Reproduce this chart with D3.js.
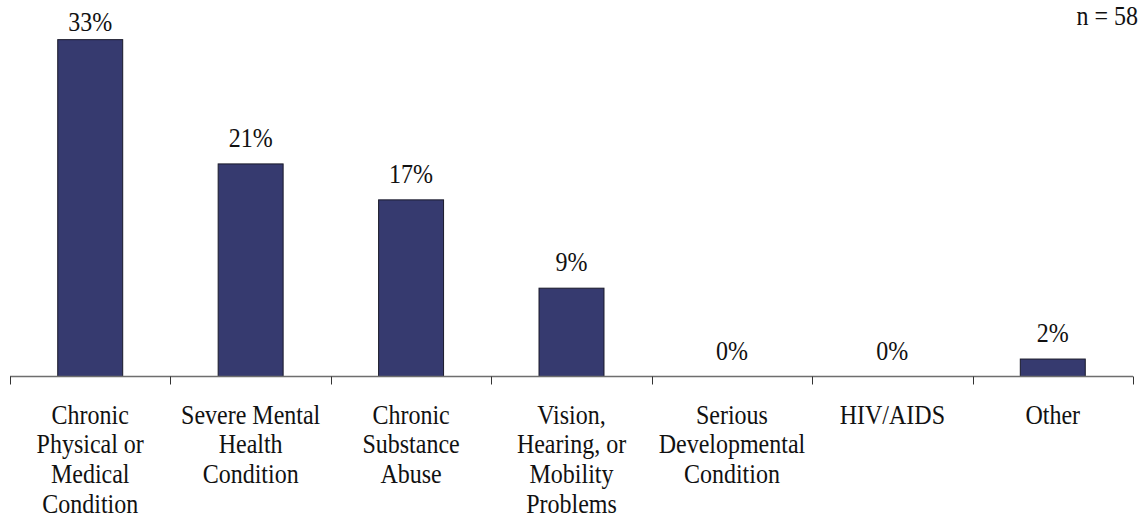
<!DOCTYPE html>
<html>
<head>
<meta charset="utf-8">
<script src="https://cdn.jsdelivr.net/npm/d3@7/dist/d3.min.js"></script>
<style>
  html, body { margin: 0; padding: 0; background: #fff; }
  svg { display: block; }
</style>
</head>
<body>
<svg id="chart" width="1144" height="529"></svg>
<script>
// ---- data ----
const categories = [
  ["Chronic", "Physical or", "Medical", "Condition"],
  ["Severe Mental", "Health", "Condition"],
  ["Chronic", "Substance", "Abuse"],
  ["Vision,", "Hearing, or", "Mobility", "Problems"],
  ["Serious", "Developmental", "Condition"],
  ["HIV/AIDS"],
  ["Other"]
];
const values = [32.8, 20.7, 17.2, 8.6, 0, 0, 1.7];      // percent (estimated)
const valueLabels = ["33%", "21%", "17%", "9%", "0%", "0%", "2%"];
const noteText = "n = 58";

// ---- layout ----
const FONT = "'Liberation Serif', 'Times New Roman', Times, 'DejaVu Serif', 'Noto Serif', serif";
const svg = d3.select("#chart");
const left = 10, right = 1133, baseY = 376.5;
const keys = categories.map((c, i) => i);
const x = d3.scaleBand().domain(keys).range([left, right]).paddingInner(0.595).paddingOuter(0.2975);
const y = d3.scaleLinear().domain([0, 35]).range([baseY, baseY - 35 * 10.27]);
const stretch = 1.13;

// bars
svg.append("g").selectAll("rect").data(values).join("rect")
  .attr("x", (d, i) => x(i))
  .attr("y", d => y(d))
  .attr("width", x.bandwidth())
  .attr("height", d => y(0) - y(d))
  .attr("fill", "#363a6f")
  .attr("stroke", "#1a1a2a")
  .attr("stroke-width", 1);

// axis line + boundary ticks
const step = x.step();
const boundaries = d3.range(categories.length + 1).map(i => left + i * step);
svg.append("line")
  .attr("x1", left).attr("x2", right)
  .attr("y1", baseY).attr("y2", baseY)
  .attr("stroke", "#6e6e6e").attr("stroke-width", 1.5);
svg.append("g").selectAll("line").data(boundaries).join("line")
  .attr("x1", d => Math.round(d) + 0.5).attr("x2", d => Math.round(d) + 0.5)
  .attr("y1", baseY).attr("y2", baseY + 8)
  .attr("stroke", "#333").attr("stroke-width", 1);

function styleText(sel) {
  return sel.attr("font-family", FONT).attr("font-size", 24).attr("fill", "#111");
}

// value labels
svg.append("g").selectAll("text").data(values).join("text")
  .attr("transform", (d, i) => `translate(${x(i) + x.bandwidth() / 2},${Math.max(31, y(d) - 17)}) scale(1,${stretch})`)
  .attr("text-anchor", "middle")
  .call(styleText)
  .text((d, i) => valueLabels[i]);

// category labels
const catG = svg.append("g");
categories.forEach((lines, i) => {
  const cx = x(i) + x.bandwidth() / 2;
  lines.forEach((ln, j) => {
    catG.append("text")
      .attr("transform", `translate(${cx},${423.5 + j * 29.7}) scale(1,${stretch})`)
      .attr("text-anchor", "middle")
      .call(styleText)
      .text(ln);
  });
});

// note
svg.append("text")
  .attr("transform", `translate(1138,25) scale(1,${stretch})`)
  .attr("text-anchor", "end")
  .call(styleText)
  .text(noteText);
</script>
</body>
</html>
